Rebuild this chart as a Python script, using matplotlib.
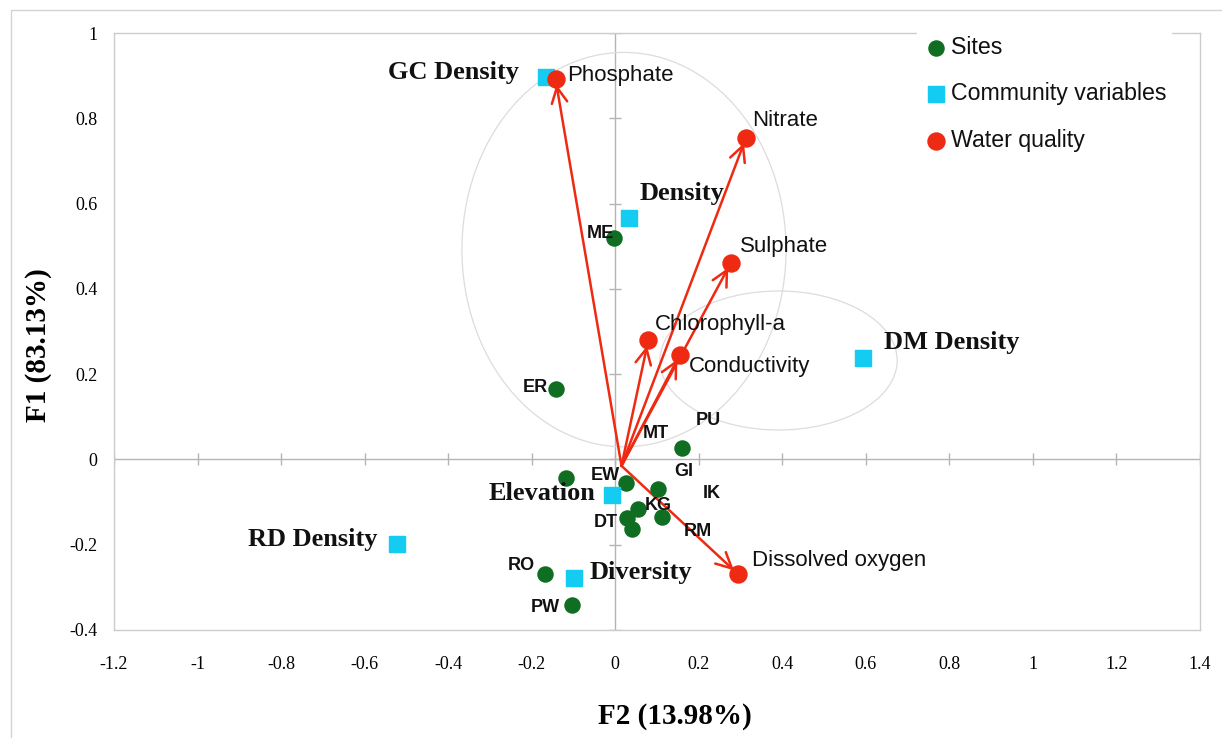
import numpy as np
import matplotlib
matplotlib.use('Agg')
import matplotlib.pyplot as plt
from matplotlib.patches import Ellipse, Rectangle

# sites (green)
site_names = ['ME', 'ER', 'PU', 'MT', 'EW', 'GI', 'KG', 'DT', 'IK', 'RM', 'RO', 'PW']
site_x = [-0.002, -0.141, 0.160, -0.119, 0.026, 0.103, 0.055, 0.029, 0.041, 0.112, -0.169, -0.103]
site_y = [0.520, 0.164, 0.026, -0.044, -0.056, -0.070, -0.117, -0.138, -0.162, -0.136, -0.269, -0.342]

# community variables (cyan)
comm_names = ['GC Density', 'Density', 'DM Density', 'Elevation', 'RD Density', 'Diversity']
comm_x = [-0.165, 0.033, 0.594, -0.007, -0.523, -0.098]
comm_y = [0.897, 0.567, 0.237, -0.084, -0.199, -0.279]

# water quality (red)
wq_names = ['Phosphate', 'Nitrate', 'Sulphate', 'Chlorophyll-a', 'Conductivity', 'Dissolved oxygen']
wq_x = [-0.143, 0.313, 0.277, 0.079, 0.155, 0.294]
wq_y = [0.892, 0.754, 0.461, 0.279, 0.246, -0.269]

x_ticks = [-1.2, -1.0, -0.8, -0.6, -0.4, -0.2, 0, 0.2, 0.4, 0.6, 0.8, 1.0, 1.2, 1.4]
x_tick_labels = ['-1.2', '-1', '-0.8', '-0.6', '-0.4', '-0.2', '0', '0.2', '0.4', '0.6', '0.8', '1', '1.2', '1.4']
y_ticks = [-0.4, -0.2, 0, 0.2, 0.4, 0.6, 0.8, 1.0]
y_tick_labels = ['-0.4', '-0.2', '0', '0.2', '0.4', '0.6', '0.8', '1']

# label offsets in pixels
site_off = [(-14, 4), (-21, 2), (26, 28), (90, 45), (-21, 8), (25, 18),
            (20, 4), (-22, -4), (79, 35), (36, -14), (-23, 9), (-27, -2)]
comm_off = [(-93, 4), (53, 24), (88, 16), (-70, 2), (-84, 5), (67, 6)]
wq_off = [(12, 4), (6, 17), (9, 16), (7, 16), (9, -12), (14, 14)]

GREEN = '#0f6e22'
CYAN = '#14cbf2'
RED = '#ee2a12'
GRID = '#b4b4b4'

plt.rcParams['font.family'] = ['Liberation Sans', 'DejaVu Sans']

fig = plt.figure(figsize=(12.22, 7.38), dpi=100)
ax = fig.add_axes([114 / 1222, 1 - 630 / 738, (1200 - 114) / 1222, (630 - 33) / 738])
ax.set_xlim(-1.2, 1.4)
ax.set_ylim(-0.4, 1.0)

for sp in ax.spines.values():
    sp.set_color('#cccccc')
    sp.set_linewidth(1)

ax.set_xticks(x_ticks)
ax.set_yticks(y_ticks)
ax.set_xticklabels(x_tick_labels, family='Liberation Serif', fontsize=13)
ax.set_yticklabels(y_tick_labels, family='Liberation Serif', fontsize=13)
ax.tick_params(length=0)
ax.tick_params(axis='x', pad=19)
ax.tick_params(axis='y', pad=12)

ax.set_xlabel('F2 (13.98%)', family='Liberation Serif', fontweight='bold', fontsize=21)
ax.set_ylabel('F1 (83.13%)', family='Liberation Serif', fontweight='bold', fontsize=21)
ax.xaxis.set_label_coords((675 - 114) / 1086, -(703 - 630) / 597)
ax.yaxis.set_label_coords(-(114 - 52) / 1086, (630 - 345) / 597)

# zero axes with tick crosses
ax.axhline(0, color=GRID, lw=1, zorder=1)
ax.axvline(0, color=GRID, lw=1, zorder=1)
ax.plot(x_ticks, np.zeros(len(x_ticks)), ls='none', marker='|', ms=9, mew=1, color=GRID, zorder=1)
ax.plot(np.zeros(len(y_ticks)), y_ticks, ls='none', marker='_', ms=9, mew=1, color=GRID, zorder=1)

# ellipses
ax.add_patch(Ellipse((0.021, 0.492), 0.776, 0.925, fill=False, ec='#dcdcdc', lw=0.9, zorder=1))
ax.add_patch(Ellipse((0.391, 0.232), 0.568, 0.326, fill=False, ec='#dcdcdc', lw=0.9, zorder=1))

# arrows to water quality
arrow_origin = (0.015, -0.015)
for x, y in zip(wq_x, wq_y):
    ax.annotate('', xy=(x, y), xytext=arrow_origin,
                arrowprops=dict(arrowstyle='->', color=RED, lw=1.8, mutation_scale=28,
                                shrinkA=0, shrinkB=4), zorder=3)

ax.scatter(site_x, site_y, s=118, color=GREEN, marker='o', zorder=4, label='Sites')
ax.scatter(comm_x, comm_y, s=118, color=CYAN, marker='s', zorder=4, label='Community variables')
ax.scatter(wq_x, wq_y, s=150, color=RED, marker='o', zorder=4, label='Water quality')

for n, x, y, o in zip(site_names, site_x, site_y, site_off):
    ax.annotate(n, (x, y), xytext=o, textcoords='offset pixels', ha='center', va='center',
                fontsize=13, fontweight='bold', color='#111111', zorder=5)
for n, x, y, o in zip(comm_names, comm_x, comm_y, comm_off):
    ax.annotate(n, (x, y), xytext=o, textcoords='offset pixels', ha='center', va='center',
                family='Liberation Serif', fontsize=19, fontweight='bold', color='#111111', zorder=5)
for n, x, y, o in zip(wq_names, wq_x, wq_y, wq_off):
    ax.annotate(n, (x, y), xytext=o, textcoords='offset pixels', ha='left', va='center',
                fontsize=16, color='#111111', zorder=5)

leg = ax.legend(loc='upper left', bbox_to_anchor=((917 - 114) / 1086, 1.003), fontsize=16.7,
                frameon=True, fancybox=False, edgecolor='white', facecolor='white', framealpha=1,
                borderpad=0.2, labelspacing=1.01, handletextpad=0.05, handlelength=1.2,
                borderaxespad=0, markerscale=1.0)
for t in leg.get_texts():
    t.set_color('#111111')

# outer border
fig.add_artist(Rectangle((11 / 1222, -0.2), 1.2, 1.2 - 10 / 738, transform=fig.transFigure,
                         fill=False, ec='#d4d4d4', lw=1))

fig.savefig('out.png', dpi=100)
